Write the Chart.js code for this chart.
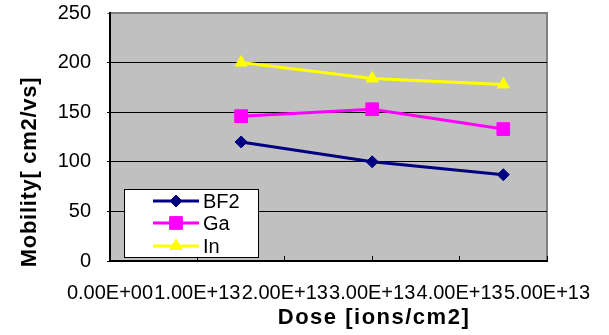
<!DOCTYPE html>
<html><head><meta charset="utf-8">
<script src="https://cdn.jsdelivr.net/npm/chart.js@4/dist/chart.umd.min.js"></script>
<style>html,body{margin:0;padding:0;background:#fff;overflow:hidden}canvas{display:block}</style>
</head><body>
<canvas id="c" width="609" height="335"></canvas>
<script>
// ---- data ----
const doses = [1.5e13, 3.0e13, 4.5e13];
const seriesNames = ['BF2', 'Ga', 'In'];
const bf2Values = [120, 100, 87];
const gaValues = [146, 153, 133];
const inValues = [200, 184, 178];
const xTickLabels = ['0.00E+00', '1.00E+13', '2.00E+13', '3.00E+13', '4.00E+13', '5.00E+13'];
const yTickValues = [0, 50, 100, 150, 200, 250];
const xTitle = 'Dose [ions/cm2]';
const yTitle = 'Mobility[ cm2/vs]';

const FONT = '"Liberation Sans", Arial, sans-serif';
Chart.defaults.font.family = FONT;
Chart.defaults.font.size = 20;
Chart.defaults.color = '#000';

function pts(vals) { return doses.map((d, i) => ({ x: d, y: vals[i] })); }

const bgPlugin = {
  id: 'bg',
  beforeDraw(chart) {
    const { ctx, chartArea: a } = chart;
    ctx.save();
    ctx.fillStyle = '#C0C0C0';
    ctx.fillRect(a.left, a.top, a.right - a.left, a.bottom - a.top);
    ctx.strokeStyle = '#808080';
    ctx.lineWidth = 2;
    ctx.beginPath();
    ctx.moveTo(a.left, a.top);
    ctx.lineTo(a.right, a.top);
    ctx.lineTo(a.right, a.bottom);
    ctx.stroke();
    ctx.restore();
  }
};

const titlePlugin = {
  id: 'axisTitles',
  afterDraw(chart) {
    const ctx = chart.ctx;
    ctx.save();
    ctx.fillStyle = '#000';
    ctx.font = 'bold 22px ' + FONT;
    ctx.textAlign = 'center';
    ctx.textBaseline = 'middle';
    try { ctx.letterSpacing = '1.5px'; } catch (e) {}
    ctx.fillText(xTitle, 374, 318);
    try { ctx.letterSpacing = '0.7px'; } catch (e) {}
    ctx.translate(30, 172);
    ctx.rotate(-Math.PI / 2);
    ctx.fillText(yTitle, 0, 0);
    ctx.restore();
  }
};

const legendPlugin = {
  id: 'boxLegend',
  afterDraw(chart) {
    const ctx = chart.ctx;
    const bx = 124, by = 189, bw = 134, bh = 68;
    ctx.save();
    ctx.fillStyle = '#fff';
    ctx.fillRect(bx, by, bw, bh);
    ctx.strokeStyle = '#000';
    ctx.lineWidth = 1;
    ctx.strokeRect(bx + 0.5, by + 0.5, bw, bh);
    const rows = [201, 223, 246];
    chart.data.datasets.forEach((ds, i) => {
      const y = rows[i];
      ctx.strokeStyle = ds.borderColor;
      ctx.lineWidth = ds.borderWidth;
      ctx.beginPath();
      ctx.moveTo(153, y);
      ctx.lineTo(199, y);
      ctx.stroke();
      ctx.fillStyle = ds.pointBackgroundColor;
      ctx.strokeStyle = ds.pointBorderColor;
      ctx.lineWidth = 1;
      if (Chart.helpers && Chart.helpers.drawPoint) {
        Chart.helpers.drawPoint(ctx, { pointStyle: ds.pointStyle, radius: ds.pointRadius, rotation: 0, borderWidth: 1 }, 176, y);
      }
      ctx.fillStyle = '#000';
      ctx.font = '20px ' + FONT;
      ctx.textAlign = 'left';
      ctx.textBaseline = 'middle';
      ctx.fillText(ds.label, 203, y + 1);
    });
    ctx.restore();
  }
};

const colors = ['#000080', '#FF00FF', '#FFFF00'];
const styles = ['rectRot', 'rect', 'triangle'];
const radii = [6, 9, 7];
const allValues = [bf2Values, gaValues, inValues];

new Chart(document.getElementById('c'), {
  type: 'line',
  data: {
    datasets: seriesNames.map((name, i) => ({
      label: name,
      data: pts(allValues[i]),
      borderColor: colors[i],
      backgroundColor: colors[i],
      pointBackgroundColor: colors[i],
      pointBorderColor: colors[i],
      pointBorderWidth: 1,
      pointStyle: styles[i],
      pointRadius: radii[i],
      borderWidth: 3,
      tension: 0,
      fill: false
    }))
  },
  options: {
    responsive: false,
    animation: false,
    devicePixelRatio: 1,
    layout: { padding: { left: 0, right: 62, top: 13, bottom: 0 } },
    plugins: { legend: { display: false }, tooltip: { enabled: false } },
    scales: {
      x: {
        type: 'linear',
        min: 0, max: 5e13,
        afterFit(s) { s.height = 74; s.paddingLeft = 0; s.paddingRight = 0; },
        afterBuildTicks(s) { s.ticks = xTickLabels.map((_, i) => ({ value: i * 1e13 })); },
        ticks: {
          callback: (v, i) => xTickLabels[i],
          maxRotation: 0, autoSkip: false, padding: 25,
          font: { size: 20 }
        },
        grid: { drawOnChartArea: false, drawTicks: true, tickLength: -5, color: '#000', lineWidth: 1 },
        border: { display: true, color: '#000', width: 2 },
        title: { display: false }
      },
      y: {
        min: 0, max: 250,
        afterFit(s) { s.width = 110; s.paddingTop = 0; s.paddingBottom = 0; },
        afterBuildTicks(s) { s.ticks = yTickValues.map(v => ({ value: v })); },
        ticks: { padding: 16, font: { size: 20 } },
        grid: {
          color: (c) => (c.tick && c.tick.value === 250 ? '#808080' : '#000'),
          lineWidth: 1, drawTicks: true, tickLength: 3
        },
        border: { display: true, color: '#000', width: 2 },
        title: { display: false }
      }
    }
  },
  plugins: [bgPlugin, legendPlugin, titlePlugin]
});
</script>
</body></html>
